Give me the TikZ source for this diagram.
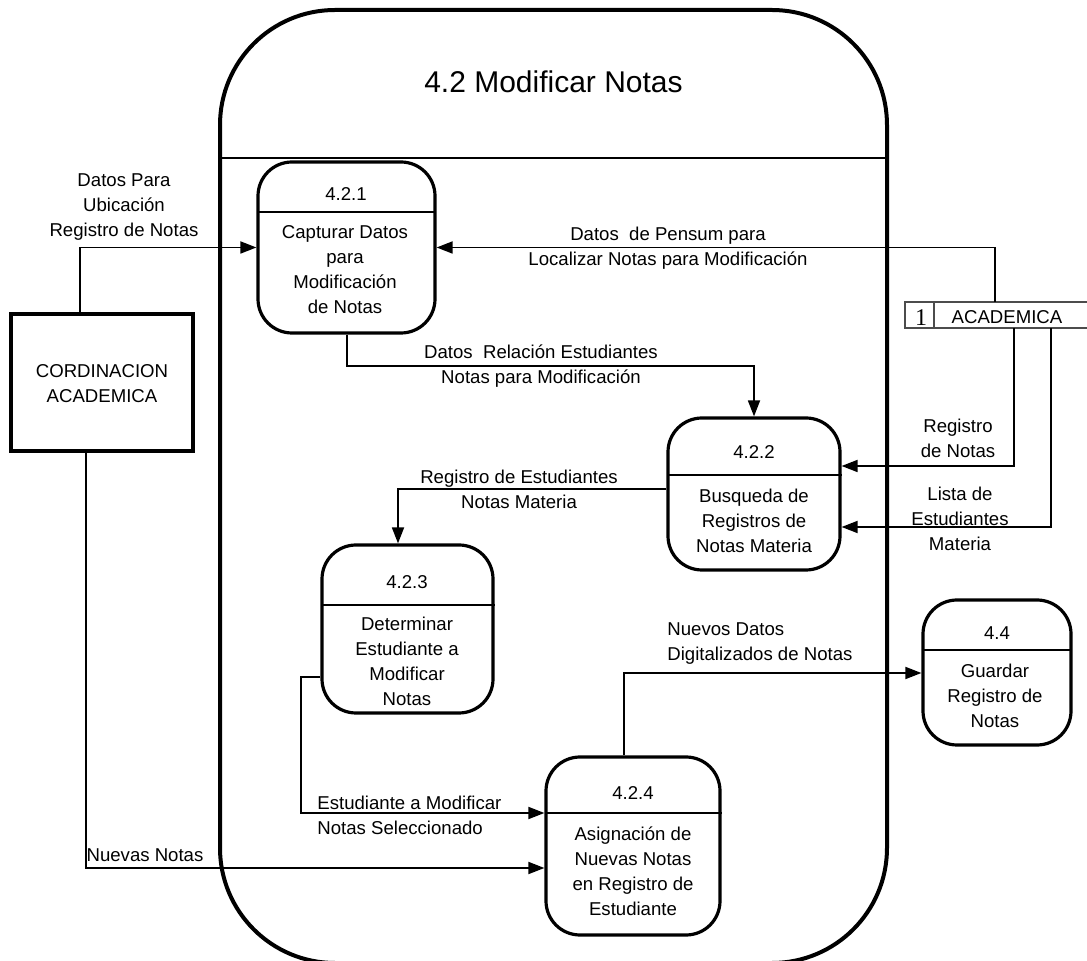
\documentclass[tikz,border=0pt]{standalone}
\usepackage{fontspec}
\setmainfont{Liberation Sans}
\newfontfamily\serifdigit{Liberation Serif}
\usetikzlibrary{arrows.meta}
\tikzset{
  lbl/.style={font=\fontsize{9.3}{12.5}\selectfont, align=center, inner sep=0pt},
  lblL/.style={font=\fontsize{9.3}{12.5}\selectfont, align=left, inner sep=0pt},
  proc/.style={draw, line width=1.6pt, rounded corners=17pt, inner sep=0pt},
  hdr/.style={line width=0.6pt},
  flow/.style={line width=0.9pt, -{Triangle[length=8pt,width=6pt]}},
  plain/.style={line width=0.9pt},
}
\begin{document}
\begin{tikzpicture}[x=0.5pt,y=-0.5pt]
\useasboundingbox (0,0) rectangle (1087,961);
% outer frame
\draw[line width=2pt, rounded corners=57.5pt] (220,10) rectangle (887,963);
\draw[line width=0.9pt] (220,158) -- (887,158);
\node[font=\fontsize{15}{18}\selectfont, inner sep=0pt] (title) at (553.5,82) {4.2 Modificar Notas};

% external entity
\node[draw, line width=2pt, minimum width=91pt, minimum height=68.5pt, inner sep=0pt] (cord) at (102,382.5) {};
\node[lbl] (cordt) at (102,384) {CORDINACION\\ACADEMICA};

% data store
\node[draw=none, minimum width=76.5pt, minimum height=13pt, inner sep=0pt] (store) at (1010.5,315) {};
\draw[line width=0.6pt, gray!60!black] (905,302) rectangle (934,328);
\draw[line width=0.6pt, gray!60!black] (934,302) -- (1087,302) (934,328) -- (1087,328);
\node[inner sep=0pt, font=\serifdigit\fontsize{12}{14}\selectfont] (snum) at (921,318) {1};
\node[lbl] (stext) at (1007,317) {ACADEMICA};

% processes
\node[proc, minimum width=88.5pt, minimum height=85.5pt] (p421) at (346.5,247.5) {};
\draw[hdr] (257,212) -- (436,212);
\node[lbl] (p421n) at (346,194) {4.2.1};
\node[lbl] (p421t) at (345,269.5) {Capturar Datos\\para\\Modificación\\de Notas};

\node[proc, minimum width=86pt, minimum height=76pt] (p422) at (754,494) {};
\draw[hdr] (667,475) -- (842,475);
\node[lbl] (p422n) at (754,452) {4.2.2};
\node[lbl] (p422t) at (754,521) {Busqueda de\\Registros de\\Notas Materia};

\node[proc, minimum width=85.5pt, minimum height=84pt] (p423) at (407.5,629) {};
\draw[hdr] (321,605) -- (495,605);
\node[lbl] (p423n) at (407,582) {4.2.3};
\node[lbl] (p423t) at (407,661.5) {Determinar\\Estudiante a\\Modificar\\Notas};

\node[proc, minimum width=87pt, minimum height=89pt] (p424) at (633,846) {};
\draw[hdr] (545,813) -- (722,813);
\node[lbl] (p424n) at (633,793) {4.2.4};
\node[lbl] (p424t) at (633,871) {Asignación de\\Nuevas Notas\\en Registro de\\Estudiante};

\node[proc, minimum width=74pt, minimum height=72.5pt] (p44) at (997,672.5) {};
\draw[hdr] (922,650) -- (1072,650);
\node[lbl] (p44n) at (997,633) {4.4};
\node[lbl] (p44t) at (995,696) {Guardar\\Registro de\\Notas};

% connectors
\draw[flow] (cord.north -| 80,0) |- (p421.west);
\node[lbl] (l1) at (124,207) {Datos Para\\Ubicación\\Registro de Notas};

\draw[flow] (store.north -| 995,0) |- (p421.east);
\node[lbl] (l2) at (668,248.5) {Datos\ \ de Pensum para\\Localizar Notas para Modificación};

\draw[flow] (p421.south -| 347,0) |- (p422.north |- 0,366) -- (p422.north);
\node[lbl] (l3) at (541,366.5) {Datos\ \ Relación Estudiantes\\Notas para Modificación};

\draw[flow] (store.south -| 1014,0) |- (p422.east |- 0,466);
\node[lbl] (l4) at (958,438.5) {Registro\\de Notas};

\draw[flow] (store.south -| 1051,0) |- (p422.east |- 0,527);
\node[lbl] (l5) at (960,518.5) {Lista de\\Estudiantes\\Materia};

\draw[flow] (p422.west |- 0,489) -| (p423.north -| 398,0);
\node[lbl] (l6) at (519,489.5) {Registro de Estudiantes\\Notas Materia};

\draw[flow] (p423.west |- 0,677) -- (301,677) |- (p424.west |- 0,813);
\node[lblL, anchor=west] (l7) at (317,815.5) {Estudiante a Modificar\\Notas Seleccionado};

\draw[flow] (cord.south -| 86,0) |- (p424.west |- 0,868);
\node[lbl] (l8) at (145,855) {Nuevas Notas};

\draw[flow] (p424.north -| 624,0) |- (p44.west |- 0,673);
\node[lblL, anchor=west] (l9) at (667,643.5) {Nuevos Datos\\Digitalizados de Notas};
\end{tikzpicture}
\end{document}
